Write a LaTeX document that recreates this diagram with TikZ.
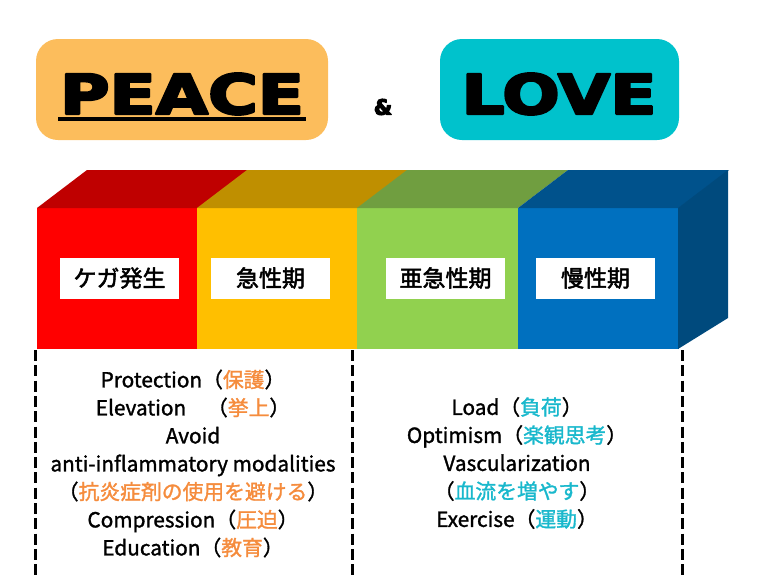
\documentclass[tikz,border=0pt]{standalone}
\usepackage{fontspec}
\setmainfont{Noto Sans CJK JP}
\newfontfamily\heavyfont{DejaVu Sans}
\usepackage{tikz}
\usetikzlibrary{arrows}
\definecolor{ffqqqq}{rgb}{1,0,0}
\definecolor{ccqqqq}{rgb}{0.75,0,0}
\definecolor{ffcqqq}{rgb}{1,0.75,0}
\definecolor{bfxqqq}{rgb}{0.75,0.56,0}
\definecolor{ttddqq}{rgb}{0.57,0.82,0.31}
\definecolor{ttaauu}{rgb}{0.44,0.62,0.25}
\definecolor{qqttcc}{rgb}{0,0.44,0.75}
\definecolor{qquuxx}{rgb}{0,0.32,0.55}
\definecolor{qqxuxx}{rgb}{0,0.29,0.49}
\definecolor{ffbdxc}{rgb}{0.99,0.74,0.36}
\definecolor{qqcccc}{rgb}{0,0.76,0.80}
\definecolor{ffxxuu}{rgb}{0.96,0.55,0.24}
\definecolor{qqbbdd}{rgb}{0.1,0.72,0.8}
\newcommand{\pj}[1]{\textcolor{ffxxuu}{#1}}
\newcommand{\lj}[1]{\textcolor{qqbbdd}{#1}}
\newcommand{\heavier}[2]{\special{pdf:literal direct #1 w 2 Tr}#2\special{pdf:literal direct 0 Tr}}

\begin{document}
\begin{tikzpicture}[line cap=butt,line join=round,x=1pt,y=-1pt,
    titlebox/.style={rounded corners=22,minimum width=#1,minimum height=101,inner sep=0},
    titletext/.style={font=\heavyfont\bfseries\fontsize{55}{55}\selectfont,xscale=1.23,inner sep=0},
    phasebox/.style={fill=white,minimum width=119,minimum height=41,inner sep=0,font=\fontsize{23}{23}\selectfont},
    bodytext/.style={align=center,font=\fontsize{20.8}{28}\selectfont,inner sep=0}]
    \useasboundingbox (0,0) rectangle (768,576);
    % titles
    \node[titlebox=292,fill=ffbdxc] (peacebox) at (182,89.5) {};
    \node[titlebox=239,fill=qqcccc] (lovebox) at (559.5,89.5) {};
    \node[titletext,anchor=base] (peace) at (182,114) {\heavier{2.2}{PEACE}};
    \node[titletext,anchor=base] (love) at (559,114) {\heavier{2.2}{LOVE}};
    \draw[line width=4] (58,119) -- (306,119);
    \node[font=\heavyfont\bfseries\fontsize{21}{21}\selectfont,inner sep=0] (amp) at (383,107) {\heavier{1.2}{\&}};
    % block: front and top faces
    \foreach \x/\cf/\ct in {37/ffqqqq/ccqqqq,197/ffcqqq/bfxqqq,357/ttddqq/ttaauu,518/qqttcc/qquuxx}
    {
    \fill[color=\cf] (\x,208) rectangle (\x+161,349);
    \fill[color=\ct] (\x,208) -- (\x+161,208) -- (\x+211,170) -- (\x+50,170) -- cycle;
    }
    \fill[color=qqxuxx] (678,208) -- (728,170) -- (728,318) -- (678,349) -- cycle;
    % phases
    \node[phasebox] (injury) at (119.5,278) {\heavier{0.5}{ケガ発生}};
    \node[phasebox] (acute) at (270.5,278) {\heavier{0.5}{急性期}};
    \node[phasebox] (subacute) at (445.5,278) {\heavier{0.5}{亜急性期}};
    \node[phasebox] (chronic) at (595.5,278) {\heavier{0.5}{慢性期}};
    % dashed separators
    \foreach \x in {35.5,352.5,682.5}
    \draw[line width=3.6,dash pattern=on 11pt off 4.3pt] (\x,350) -- (\x,576);
    % texts
    \node[bodytext] (peacelist) at (193,463.5) {\heavier{0.3}{Protection（\pj{保護}）}\\
        \heavier{0.3}{Elevation　（\pj{挙上}）}\\
        \heavier{0.3}{Avoid}\\
        \heavier{0.3}{anti-inflammatory modalities}\\
        \heavier{0.3}{（\pj{抗炎症剤の使用を避ける}）}\\
        \heavier{0.3}{Compression（\pj{圧迫}）}\\
        \heavier{0.3}{Education（\pj{教育}）}};
    \node[bodytext] (lovelist) at (517,463) {\heavier{0.3}{Load（\lj{負荷}）}\\
        \heavier{0.3}{Optimism（\lj{楽観思考}）}\\
        \heavier{0.3}{Vascularization}\\
        \heavier{0.3}{（\lj{血流を増やす}）}\\
        \heavier{0.3}{Exercise（\lj{運動}）}};
\end{tikzpicture}
\end{document}
